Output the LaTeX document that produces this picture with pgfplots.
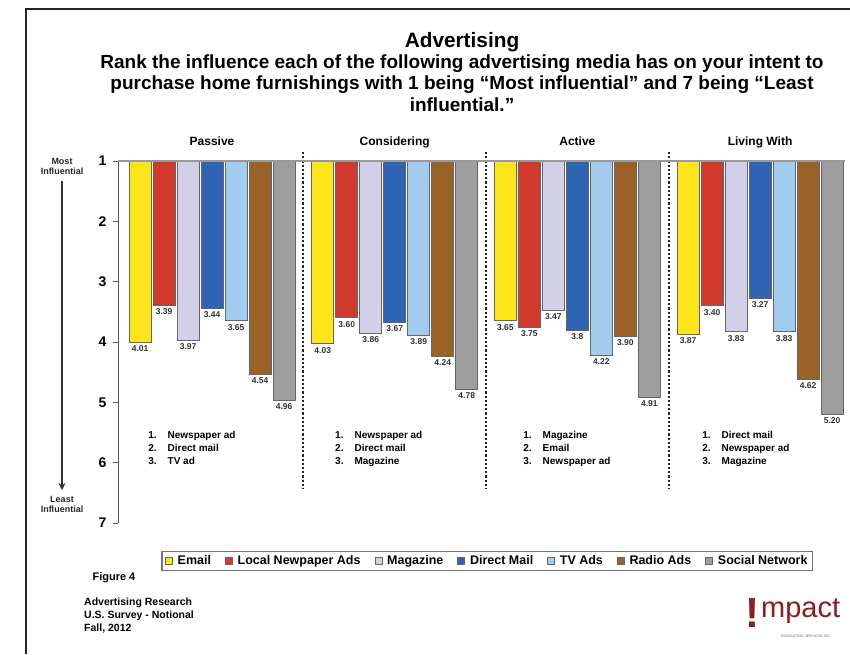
\documentclass[border=0pt]{standalone}
\usepackage{pgfplots}
\pgfplotsset{compat=1.18}
\usepackage{fontspec}
\setmainfont{Liberation Sans}
\usetikzlibrary{arrows.meta}
\definecolor{cEmail}{HTML}{FFE41C}
\definecolor{cNews}{HTML}{D0392B}
\definecolor{cMag}{HTML}{D2CFE9}
\definecolor{cDirect}{HTML}{2F63B3}
\definecolor{cTV}{HTML}{A2CCEF}
\definecolor{cRadio}{HTML}{9A6227}
\definecolor{cSocial}{HTML}{9D9D9D}
\definecolor{impact}{HTML}{8E1B1E}
\pgfplotsset{sq legend/.style={legend image code/.code={\draw[##1,line width=0.6pt,draw=black!60] (0pt,-3.5pt) rectangle (7pt,3.5pt);}}}
\tikzset{sep/.style={black!85, line width=2pt, dash pattern=on 2.2pt off 2pt}}
\begin{document}
\begin{tikzpicture}
\useasboundingbox (0pt,0pt) rectangle (850pt,-654pt);
\fill[white] (0pt,0pt) rectangle (850pt,-654pt);
\draw[line width=1.2pt, black!85] (26pt,-654pt) -- (26pt,-9pt) -- (850pt,-9pt);
\node[font=\fontsize{20.8}{24}\selectfont\bfseries] at (462pt,-42pt) {Advertising};
\node[font=\fontsize{19}{21.5}\selectfont\bfseries, align=center] at (462pt,-83pt) {Rank the influence each of the following advertising media has on your intent to\\ purchase home furnishings with 1 being “Most influential” and 7 being “Least\\ influential.”};
% y-axis annotation
\node[font=\fontsize{9}{10}\selectfont\bfseries, align=center, text=black!85] at (62pt,-166pt) {Most\\Influential};
\draw[-{Stealth[length=7pt,width=7pt]}, line width=1.2pt, black!80] (62pt,-181pt) -- (62pt,-490pt);
\node[font=\fontsize{9}{10}\selectfont\bfseries, align=center, text=black!85] at (62pt,-504pt) {Least\\Influential};
\begin{axis}[
  at={(118pt,-161pt)}, anchor=north west,
  scale only axis, width=727pt, height=362pt,
  xmin=-0.515, xmax=3.465,
  ymin=1, ymax=7, y dir=reverse,
  axis y line=left, axis x line=none,
  axis line style={-, line width=1pt, black!65},
  ytick={1,2,3,4,5,6,7}, xtick=\empty,
  tick align=outside, major tick length=5pt,
  tick style={line width=1pt, black!65},
  /pgf/number format/assume math mode=true,
  yticklabel style={font=\fontsize{14}{16}\selectfont\bfseries, xshift=-3pt},
  clip mode=individual,
  ybar, bar width=22pt,
  point meta=explicit symbolic,
  nodes near coords,
  nodes near coords style={anchor=north, font=\fontsize{8.5}{10}\selectfont\bfseries, text=black!80, inner sep=2pt, yshift=-1pt},
  legend style={at={(axis description cs:0.508,-0.105)}, anchor=center, legend columns=-1,
    draw=black!55, line width=1.2pt, font=\fontsize{12.5}{14}\selectfont\bfseries,
    inner ysep=2pt, inner xsep=3pt,
    /tikz/every odd column/.append style={column sep=3pt},
    /tikz/every even column/.append style={column sep=12pt}},
]
\addplot[fill=cEmail, draw=black!60, line width=0.8pt, bar shift=-72pt, sq legend] coordinates {(0,4.01)[4.01] (1,4.03)[4.03] (2,3.65)[3.65] (3,3.87)[3.87]};
\addplot[fill=cNews, draw=black!60, line width=0.8pt, bar shift=-48pt, sq legend] coordinates {(0,3.39)[3.39] (1,3.60)[3.60] (2,3.75)[3.75] (3,3.40)[3.40]};
\addplot[fill=cMag, draw=black!60, line width=0.8pt, bar shift=-24pt, sq legend] coordinates {(0,3.97)[3.97] (1,3.86)[3.86] (2,3.47)[3.47] (3,3.83)[3.83]};
\addplot[fill=cDirect, draw=black!60, line width=0.8pt, bar shift=0pt, sq legend] coordinates {(0,3.44)[3.44] (1,3.67)[3.67] (2,3.80)[3.8] (3,3.27)[3.27]};
\addplot[fill=cTV, draw=black!60, line width=0.8pt, bar shift=24pt, sq legend] coordinates {(0,3.65)[3.65] (1,3.89)[3.89] (2,4.22)[4.22] (3,3.83)[3.83]};
\addplot[fill=cRadio, draw=black!60, line width=0.8pt, bar shift=48pt, sq legend] coordinates {(0,4.54)[4.54] (1,4.24)[4.24] (2,3.90)[3.90] (3,4.62)[4.62]};
\addplot[fill=cSocial, draw=black!60, line width=0.8pt, bar shift=72pt, sq legend] coordinates {(0,4.96)[4.96] (1,4.78)[4.78] (2,4.91)[4.91] (3,5.20)[5.20]};
\legend{Email, Local Newpaper Ads, Magazine, Direct Mail, TV Ads, Radio Ads, Social Network}
% separators
\draw[sep] (axis cs:0.5,0.85) -- (axis cs:0.5,6.42);
\draw[sep] (axis cs:1.5,0.85) -- (axis cs:1.5,6.42);
\draw[sep] (axis cs:2.5,0.85) -- (axis cs:2.5,6.42);
\draw[black!40, line width=2pt] (axis cs:-0.515,1) -- (axis cs:3.465,1);
% group titles
\node[anchor=base, font=\fontsize{12}{14}\selectfont\bfseries] at (axis cs:0,0.735) {Passive};
\node[anchor=base, font=\fontsize{12}{14}\selectfont\bfseries] at (axis cs:1,0.735) {Considering};
\node[anchor=base, font=\fontsize{12}{14}\selectfont\bfseries] at (axis cs:2,0.735) {Active};
\node[anchor=base, font=\fontsize{12}{14}\selectfont\bfseries] at (axis cs:3,0.735) {Living With};
% ranking lists
\node[anchor=north west, font=\fontsize{10}{13}\selectfont\bfseries, inner sep=0pt] at (axis cs:-0.35,5.45) {\begin{tabular}{@{}l@{\hspace{11pt}}l@{}}1.&Newspaper ad\\2.&Direct mail\\3.&TV ad\end{tabular}};
\node[anchor=north west, font=\fontsize{10}{13}\selectfont\bfseries, inner sep=0pt] at (axis cs:0.673,5.45) {\begin{tabular}{@{}l@{\hspace{11pt}}l@{}}1.&Newspaper ad\\2.&Direct mail\\3.&Magazine\end{tabular}};
\node[anchor=north west, font=\fontsize{10}{13}\selectfont\bfseries, inner sep=0pt] at (axis cs:1.703,5.45) {\begin{tabular}{@{}l@{\hspace{11pt}}l@{}}1.&Magazine\\2.&Email\\3.&Newspaper ad\end{tabular}};
\node[anchor=north west, font=\fontsize{10}{13}\selectfont\bfseries, inner sep=0pt] at (axis cs:2.683,5.45) {\begin{tabular}{@{}l@{\hspace{11pt}}l@{}}1.&Direct mail\\2.&Newspaper ad\\3.&Magazine\end{tabular}};
\end{axis}
% footer
\node[anchor=west, font=\fontsize{11}{13}\selectfont\bfseries] at (89pt,-578pt) {Figure 4};
\node[anchor=north west, align=left, inner sep=0pt, font=\fontsize{10.5}{13}\selectfont\bfseries] at (84pt,-598pt) {Advertising Research\\U.S. Survey - Notional\\Fall, 2012};
% logo
\node[anchor=base west, inner sep=0pt, text=impact, font=\fontsize{42}{42}\selectfont\bfseries] at (745pt,-627pt) {!};
\node[anchor=base west, inner sep=0pt, text=impact, font=\fontsize{29}{29}\selectfont] at (761pt,-617pt) {mpact};
\node[anchor=north, text=black!60, inner sep=0pt, font=\fontsize{3.5}{4}\selectfont] at (806pt,-635pt) {CONSULTING SERVICES, INC.};
\end{tikzpicture}
\end{document}
